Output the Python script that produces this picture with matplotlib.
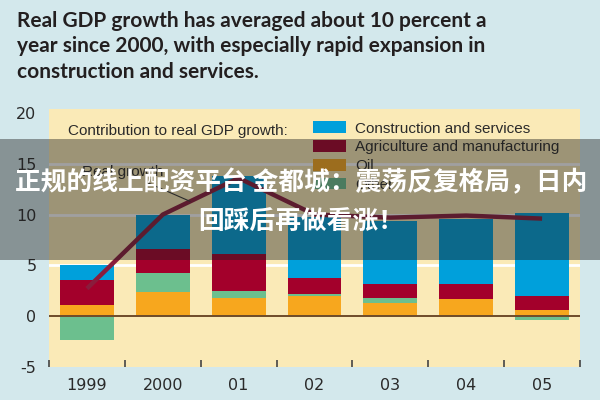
import matplotlib
matplotlib.use('Agg')
import numpy as np
import matplotlib.pyplot as plt
from matplotlib.patches import Rectangle

# Contribution to real GDP growth, percentage points
years = ['1999', '2000', '01', '02', '03', '04', '05']
oil = [1.1, 2.4, 1.8, 2.0, 1.3, 1.7, 0.55]
other = [-2.4, 1.85, 0.65, 0.2, 0.45, 0.0, -0.4]
agri = [2.4, 2.4, 3.65, 1.5, 1.45, 1.5, 1.4]
constr = [1.55, 3.35, 7.7, 6.1, 6.2, 6.4, 8.25]
growth = [2.7, 10.0, 13.6, 10.0, 9.7, 9.9, 9.6]

series = [('Oil', oil, '#f7a71e'),
          ('Other', other, '#6cbf8e'),
          ('Agriculture and manufacturing', agri, '#a3002b'),
          ('Construction and services', constr, '#00a0db')]

bg = '#d3e8ec'
plot_bg = '#faeab7'
text_col = '#2a2a2a'

fig = plt.figure(figsize=(6, 4), dpi=100, facecolor=bg)
ax = fig.add_axes([0.0817, 0.0833, 0.885, 0.644])
ax.set_facecolor(plot_bg)

x = np.arange(len(years))
pos_base = np.zeros(len(years))
neg_base = np.zeros(len(years))
handles = {}
for name, vals, col in series:
    vals = np.array(vals)
    bottom = np.where(vals >= 0, pos_base, neg_base)
    h = ax.bar(x, vals, width=0.71, bottom=bottom, color=col, zorder=2,
               linewidth=0)
    handles[name] = h
    pos_base = pos_base + np.where(vals > 0, vals, 0)
    neg_base = neg_base + np.where(vals < 0, vals, 0)

ax.plot(x, growth, color='#8a1c3c', linewidth=3.2, zorder=4,
        solid_capstyle='butt')
ax.axhline(0, color='#6e4b2a', linewidth=1.4, zorder=3)

for g in [5, 10, 15]:
    ax.axhline(g, color='white', linewidth=2, zorder=1)

ax.set_xlim(-0.5, 6.5)
ax.set_ylim(-5, 20.4)
ax.set_yticks([-5, 0, 5, 10, 15, 20])
ax.set_yticklabels(['-5', '0', '5', '10', '15', '20'])
ax.set_xticks(x)
ax.set_xticklabels(years)
ax.set_xticks(np.arange(-0.5, 7, 1), minor=True)
ax.tick_params(axis='both', which='major', length=0, labelsize=11.5,
               colors=text_col, pad=8)
ax.tick_params(axis='y', pad=9)
ax.tick_params(axis='x', which='minor', direction='in', length=5,
               width=1.2, color='#444444')
for s in ax.spines.values():
    s.set_visible(False)

ax.text(0.036, 0.915, 'Contribution to real GDP growth:', transform=ax.transAxes,
        fontsize=11, color=text_col, va='center', family='Liberation Sans')
ax.legend([handles[n] for n in ['Construction and services',
                                 'Agriculture and manufacturing', 'Oil', 'Other']],
          ['Construction and services', 'Agriculture and manufacturing', 'Oil', 'Other'],
          loc='upper left', bbox_to_anchor=(0.497, 0.952), frameon=False,
          borderpad=0, borderaxespad=0, handlelength=2.15, handleheight=0.8,
          handletextpad=0.6, labelspacing=0.3,
          prop={'family': 'Liberation Sans', 'size': 11}, labelcolor=text_col)

ax.annotate('Real growth', xy=(1.36, 11.3), xytext=(-0.06, 14.2),
            fontsize=11, color=text_col, va='center', family='Liberation Sans',
            arrowprops=dict(arrowstyle='-', color='#333333', lw=0.8,
                            shrinkA=2, shrinkB=0), zorder=5)

title = ('Real GDP growth has averaged about 10 percent a\n'
         'year since 2000, with especially rapid expansion in\n'
         'construction and services.')
fig.text(0.028, 0.972, title, fontsize=15, fontweight='bold', color='#231f20',
         va='top', ha='left', linespacing=1.33,
         family=['Lato', 'Liberation Sans', 'DejaVu Sans'])

# semi-transparent banner laid over the chart
fig.patches.append(Rectangle((0, 0.35), 1, 0.3025, transform=fig.transFigure,
                             facecolor='#1e1e1e', alpha=0.42, zorder=10))
cjk = ['Noto Sans CJK SC', 'DejaVu Sans']
fig.text(0.502, 0.5425, '正规的线上配资平台 金都城：震荡反复格局，日内',
         ha='center', va='center', fontsize=18.5, fontweight='bold',
         color='white', family=cjk, zorder=11)
fig.text(0.502, 0.445, '回踩后再做看涨！', ha='center', va='center',
         fontsize=18.5, fontweight='bold', color='white', family=cjk, zorder=11)

fig.savefig('out.png', dpi=100, facecolor=bg)
